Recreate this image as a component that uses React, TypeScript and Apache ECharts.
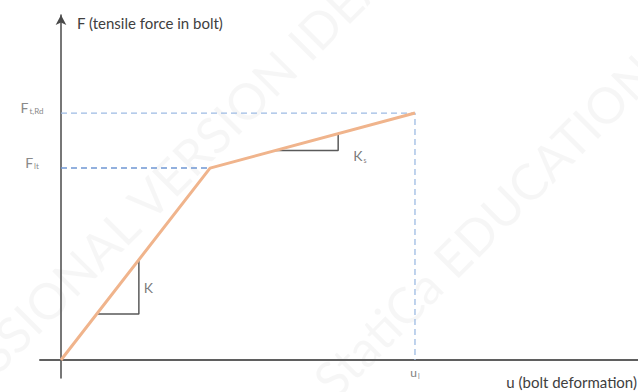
import React, { useEffect, useRef } from "react";
import * as echarts from "echarts";

// data values (arbitrary units: u_l = 10, F_t,Rd = 10)
const curveU = [0, 4.21, 10];
const curveF = [0, 7.77, 10];
const ftrdGuideU = [0, 10, 10];
const ftrdGuideF = [10, 10, 0];
const fltGuideU = [0, 4.21];
const fltGuideF = [7.77, 7.77];
const kTriU = [1.02, 2.2, 2.2];
const kTriF = [1.86, 1.86, 4.05];
const ksTriU = [6.05, 7.83, 7.83];
const ksTriF = [8.48, 8.48, 9.16];
const yTickValues = [7.77, 10];
const yTickNames = ["lt", "t,Rd"];
const xTickValues = [10];
const xTickNames = ["l"];

const zip = (a: number[], b: number[]) => a.map((v, i) => [v, b[i]]);

const FONT = "Lato, 'Open Sans', sans-serif";

export default function App() {
  const ref = useRef<HTMLDivElement>(null);
  useEffect(() => {
    if (!ref.current) return;
    const chart = echarts.init(ref.current, undefined, { renderer: "svg" });
    const option: any = {
      animation: false,
      backgroundColor: "#ffffff",
      textStyle: { fontFamily: FONT },
      grid: {
        left: 40,
        right: 0,
        top: 15,
        bottom: 14,
        containLabel: false,
        outerBoundsMode: "none",
      },
      xAxis: {
        type: "value",
        min: -0.593,
        max: 16.3,
        axisLine: { onZero: true, lineStyle: { color: "#5f5f5f", width: 2 } },
        axisTick: { show: false },
        splitLine: { show: false },
        axisLabel: {
          customValues: xTickValues,
          margin: -12,
          formatter: (v: number) => {
            const i = xTickValues.indexOf(v);
            return "{m|u}{s|" + (i >= 0 ? xTickNames[i] : "") + "}";
          },
          rich: {
            m: { fontSize: 12, color: "#808080", fontFamily: FONT },
            s: { fontSize: 7, color: "#808080", fontFamily: FONT, padding: [6, 0, 0, 1] },
          },
        },
      },
      yAxis: {
        type: "value",
        min: -0.729,
        max: 13.97,
        axisLine: {
          onZero: true,
          symbol: ["none", "arrow"],
          symbolSize: [8, 10],
          lineStyle: { color: "#4a4a4a", width: 1.5 },
        },
        axisTick: { show: false },
        splitLine: { show: false },
        axisLabel: {
          customValues: yTickValues,
          margin: 8,
          align: "center",
          padding: [0, 0, 12, 0],
          formatter: (v: number) => {
            const i = yTickValues.indexOf(v);
            return "{m|F}{s|" + (i >= 0 ? yTickNames[i] : "") + "}";
          },
          rich: {
            m: { fontSize: 14, color: "#8a8a8a", fontFamily: FONT },
            s: { fontSize: 8, color: "#8a8a8a", fontFamily: FONT, padding: [8, 0, 0, 1] },
          },
        },
      },
      graphic: [
        {
          type: "text",
          x: 125,
          y: 222,
          rotation: Math.PI / 4,
          silent: true,
          z: -10,
          style: {
            text: "PROFESSIONAL VERSION IDEA",
            fill: "rgba(0,0,0,0.035)",
            fontSize: 50,
            fontFamily: FONT,
            align: "center",
            verticalAlign: "middle",
          },
        },
        {
          type: "text",
          x: 322,
          y: 388,
          rotation: Math.PI / 4,
          silent: true,
          z: -10,
          style: {
            text: "StatiCa EDUCATION",
            fill: "rgba(0,0,0,0.035)",
            fontSize: 50,
            fontFamily: FONT,
            align: "left",
            verticalAlign: "middle",
          },
        },
        {
          type: "text",
          x: 77,
          y: 23,
          style: {
            text: "F (tensile force in bolt)",
            fill: "#404040",
            fontSize: 15,
            fontFamily: FONT,
            align: "left",
            verticalAlign: "middle",
          },
        },
        {
          type: "text",
          x: 637,
          y: 382,
          style: {
            text: "u (bolt deformation)",
            fill: "#404040",
            fontSize: 15,
            fontFamily: FONT,
            align: "right",
            verticalAlign: "middle",
          },
        },
      ],
      series: [
        {
          type: "line",
          data: zip(ftrdGuideU, ftrdGuideF),
          symbol: "none",
          lineStyle: { color: "#9dbbe3", width: 1.3, type: [6, 4] },
          z: 2,
        },
        {
          type: "line",
          data: zip(fltGuideU, fltGuideF),
          symbol: "none",
          lineStyle: { color: "#6f97d3", width: 1.5, type: [6, 4] },
          z: 2,
        },
        {
          type: "line",
          data: zip(kTriU, kTriF),
          symbol: "none",
          lineStyle: { color: "#5a5a5a", width: 1.5 },
          z: 3,
        },
        {
          type: "line",
          data: zip(ksTriU, ksTriF),
          symbol: "none",
          lineStyle: { color: "#5a5a5a", width: 1.5 },
          z: 3,
        },
        {
          type: "line",
          data: zip(curveU, curveF),
          symbol: "none",
          lineStyle: { color: "#f0b48c", width: 3 },
          z: 5,
        },
        {
          type: "scatter",
          symbolSize: 0,
          silent: true,
          data: [
            { value: [2.2, 2.92], name: "K" },
            { value: [7.83, 8.48], name: "Ks" },
          ],
          label: {
            show: true,
            position: "right",
            formatter: (p: any) =>
              p.name === "K" ? "{m|K}" : "{m|K}{s|s}",
            rich: {
              m: { fontSize: 14, color: "#595959", fontFamily: FONT },
              s: { fontSize: 7, color: "#595959", fontFamily: FONT, padding: [8, 0, 0, 1] },
            },
          },
          labelLayout: (p: any) =>
            p.dataIndex === 1 ? { dx: 10, dy: 5 } : { dx: 0, dy: 0 },
          z: 6,
        },
      ],
    };
    chart.setOption(option);
    return () => chart.dispose();
  }, []);
  return (
    <div
      ref={ref}
      style={{ position: "fixed", left: 0, top: 0, width: 638, height: 392 }}
    />
  );
}
